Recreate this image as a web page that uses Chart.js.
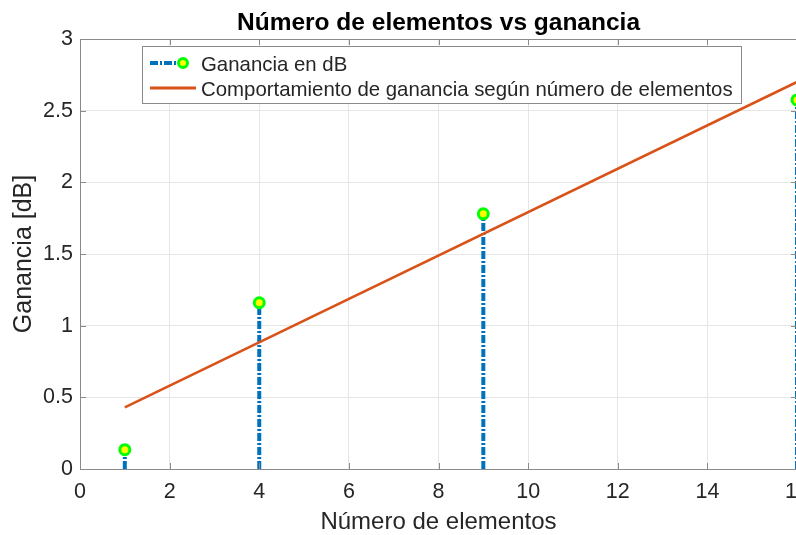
<!DOCTYPE html>
<html>
<head>
<meta charset="utf-8">
<script src="https://cdn.jsdelivr.net/npm/chart.js@4/dist/chart.umd.min.js"></script>
<style>
  html, body { margin: 0; padding: 0; overflow: hidden; background: #fff; }
  #wrap { width: 840px; height: 535px; }
</style>
</head>
<body>
<div id="wrap"><canvas id="gainChart"></canvas></div>
<script>
// datos
const elementos = [1, 4, 9, 16];
const gananciaDb = [0.135, 1.16, 1.78, 2.575];
const ajusteX = [1, 16];
const ajusteY = [0.43, 2.70];
const yTicks = [0, 0.5, 1, 1.5, 2, 2.5, 3];

const TITLE = "Número de elementos vs ganancia";
const LEG1 = "Ganancia en dB";
const LEG2 = "Comportamiento de ganancia según número de elementos";
const FONT = "'Liberation Sans', Arial, sans-serif";
const TXT = "#262626";
const STEM_DASH = [8, 2, 2, 2];

// un dataset por tallo (stem), de 0 hasta el valor
const stemSets = elementos.map((x, i) => ({
    type: "scatter",
    data: [{ x: x, y: 0 }, { x: x, y: gananciaDb[i] }],
    showLine: true,
    borderColor: "#0072BD",
    borderWidth: 4,
    borderDash: STEM_DASH,
    pointRadius: 0,
    clip: false
}));

// titulo, leyenda, caja y marcas interiores
const decor = {
    id: "decor",
    afterDraw(chart) {
        const { ctx, chartArea: a, scales } = chart;
        ctx.save();
        ctx.strokeStyle = "#8a8a8a";
        ctx.lineWidth = 1;
        ctx.strokeRect(a.left + 0.5, a.top + 0.5, a.right - a.left, a.bottom - a.top);
        // marcas hacia dentro
        ctx.beginPath();
        scales.x.ticks.forEach(t => {
            const px = Math.round(scales.x.getPixelForValue(t.value)) + 0.5;
            ctx.moveTo(px, a.bottom); ctx.lineTo(px, a.bottom - 6);
            ctx.moveTo(px, a.top); ctx.lineTo(px, a.top + 6);
        });
        scales.y.ticks.forEach(t => {
            const py = Math.round(scales.y.getPixelForValue(t.value)) + 0.5;
            ctx.moveTo(a.left, py); ctx.lineTo(a.left + 6, py);
            ctx.moveTo(a.right, py); ctx.lineTo(a.right - 6, py);
        });
        ctx.stroke();

        // titulo
        ctx.fillStyle = "#000";
        ctx.font = "bold 24.5px " + FONT;
        ctx.textAlign = "center";
        ctx.textBaseline = "alphabetic";
        ctx.fillText(TITLE, (a.left + 797) / 2, 30);

        // leyenda
        const lx = 142, ly = 46, lw = 599, lh = 57;
        ctx.fillStyle = "#fff";
        ctx.fillRect(lx, ly, lw, lh);
        ctx.strokeStyle = "#8a8a8a";
        ctx.strokeRect(lx + 0.5, ly + 0.5, lw, lh);

        ctx.lineWidth = 4;
        ctx.strokeStyle = "#0072BD";
        ctx.setLineDash(STEM_DASH);
        ctx.beginPath(); ctx.moveTo(150, 63); ctx.lineTo(182, 63); ctx.stroke();
        ctx.setLineDash([]);
        ctx.beginPath(); ctx.arc(183, 63, 4.5, 0, Math.PI * 2);
        ctx.fillStyle = "#ffff00"; ctx.fill();
        ctx.lineWidth = 3; ctx.strokeStyle = "#00ff00"; ctx.stroke();

        ctx.lineWidth = 3;
        ctx.strokeStyle = "#D95319";
        ctx.beginPath(); ctx.moveTo(150, 88); ctx.lineTo(196, 88); ctx.stroke();

        ctx.fillStyle = TXT;
        ctx.font = "20.4px " + FONT;
        ctx.textAlign = "left";
        ctx.fillText(LEG1, 201, 70.5);
        ctx.fillText(LEG2, 201, 96);
        ctx.restore();
    }
};

new Chart(document.getElementById("gainChart"), {
    data: {
        datasets: [
            ...stemSets,
            {
                type: "line",
                label: LEG2,
                data: ajusteX.map((x, i) => ({ x: x, y: ajusteY[i] })),
                borderColor: "#D95319",
                borderWidth: 2.5,
                pointRadius: 0,
                order: -1
            },
            {
                type: "scatter",
                label: LEG1,
                data: elementos.map((x, i) => ({ x: x, y: gananciaDb[i] })),
                pointStyle: "circle",
                pointRadius: 5,
                backgroundColor: "#ffff00",
                borderColor: "#00ff00",
                borderWidth: 3,
                order: -2,
                clip: false
            }
        ]
    },
    options: {
        responsive: true,
        maintainAspectRatio: false,
        animation: false,
        layout: { padding: { top: 39, right: 43, left: 0, bottom: 0 } },
        plugins: {
            legend: { display: false },
            title: { display: false },
            tooltip: { enabled: false }
        },
        scales: {
            x: {
                type: "linear",
                min: 0, max: 16,
                ticks: { stepSize: 2, color: TXT, font: { family: FONT, size: 21.5 }, padding: 10, maxRotation: 0 },
                grid: { color: "#e6e6e6", drawTicks: false },
                border: { display: false },
                title: { display: true, text: "Número de elementos", color: TXT, font: { family: FONT, size: 24, lineHeight: 1 }, padding: { top: 0, bottom: 1 } },
                afterFit(s) { s.height = 66; s.paddingRight = 0; }
            },
            y: {
                min: 0, max: 3,
                afterBuildTicks(s) { s.ticks = yTicks.map(v => ({ value: v })); },
                ticks: { color: TXT, font: { family: FONT, size: 21.5 }, padding: 7, callback: v => String(v) },
                grid: { color: "#e6e6e6", drawTicks: false },
                border: { display: false },
                title: { display: true, text: "Ganancia [dB]", color: TXT, font: { family: FONT, size: 25, lineHeight: 1 }, padding: { top: 12, bottom: 0 } },
                afterFit(s) { s.width = 80; }
            }
        }
    },
    plugins: [decor]
});
</script>
</body>
</html>
